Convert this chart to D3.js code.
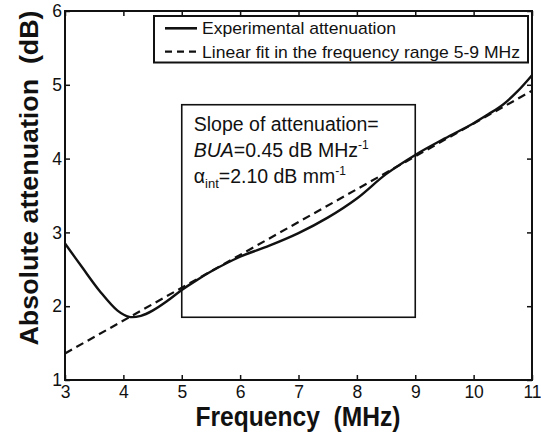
<!DOCTYPE html>
<html><head><meta charset="utf-8">
<script src="https://cdn.jsdelivr.net/npm/d3@7"></script>
<style>
html,body{margin:0;padding:0;background:#fff;}
svg{display:block;}
text{font-family:"Liberation Sans",Arial,Helvetica,sans-serif;fill:#111;}
</style></head><body>
<svg id="chart" width="541" height="434"></svg>
<script>
// ---- data ----
const freq  = [3.0,3.3,3.6,3.9,4.1,4.3,4.5,4.75,5.0,5.25,5.5,6.0,6.5,7.0,7.5,8.0,8.5,9.0,9.5,10.0,10.25,10.5,10.75,11.0];
const atten = [2.85,2.52,2.20,1.94,1.855,1.87,1.94,2.07,2.22,2.35,2.47,2.67,2.82,2.99,3.20,3.46,3.79,4.05,4.27,4.48,4.60,4.73,4.91,5.13];
const fitFreq  = [3, 11];
const fitAtten = [1.36, 4.92];
const xTicks = [3,4,5,6,7,8,9,10,11];
const yTicks = [1,2,3,4,5,6];
const legendLabels = ["Experimental attenuation", "Linear fit in the frequency range 5-9 MHz"];
const boxFreq = [5, 9];
const boxAtten = [1.85, 4.73];

// ---- layout ----
const svg = d3.select("#chart");
const m = {left:65, top:11, right:9, bottom:54};
const W = 541 - m.left - m.right, H = 434 - m.top - m.bottom;
const x = d3.scaleLinear().domain([3,11]).range([0,W]);
const y = d3.scaleLinear().domain([1,6]).range([H,0]);
const g = svg.append("g").attr("transform",`translate(${m.left},${m.top})`);

// axes with inward ticks
const fs = 17.5;
const ax = g.append("g").attr("transform",`translate(0,${H})`)
  .call(d3.axisBottom(x).tickValues(xTicks).tickSizeInner(-5).tickSizeOuter(0).tickPadding(6).tickFormat(d3.format("d")));
const ay = g.append("g")
  .call(d3.axisLeft(y).tickValues(yTicks).tickSizeInner(-5).tickSizeOuter(0).tickPadding(3).tickFormat(d3.format("d")));
const at = g.append("g")
  .call(d3.axisTop(x).tickValues(xTicks).tickSizeInner(-5).tickSizeOuter(0).tickFormat(""));
const ar = g.append("g").attr("transform",`translate(${W},0)`)
  .call(d3.axisRight(y).tickValues(yTicks).tickSizeInner(-5).tickSizeOuter(0).tickFormat(""));
[ax,ay,at,ar].forEach(a=>{
  a.select(".domain").remove();
  a.selectAll(".tick line").attr("stroke","#111").attr("stroke-width",1.5);
  a.selectAll(".tick text").attr("font-size",fs).attr("fill","#222")
   .style("font-family",'"Liberation Sans",Arial,sans-serif');
});

// frame
g.append("rect").attr("x",0).attr("y",0).attr("width",W).attr("height",H)
  .attr("fill","none").attr("stroke","#111").attr("stroke-width",2);

// annotation box
g.append("rect")
  .attr("x",x(boxFreq[0])).attr("y",y(boxAtten[1]))
  .attr("width",x(boxFreq[1])-x(boxFreq[0])).attr("height",y(boxAtten[0])-y(boxAtten[1]))
  .attr("fill","none").attr("stroke","#111").attr("stroke-width",1.6);

// lines
const line = d3.line().x(d=>x(d[0])).y(d=>y(d[1])).curve(d3.curveCatmullRom.alpha(0.5));
g.append("path").datum(fitFreq.map((f,i)=>[f,fitAtten[i]]))
  .attr("d",d3.line().x(d=>x(d[0])).y(d=>y(d[1])))
  .attr("fill","none").attr("stroke","#111").attr("stroke-width",2.2).attr("stroke-dasharray","8,5");
g.append("path").datum(freq.map((f,i)=>[f,atten[i]]))
  .attr("d",line).attr("fill","none").attr("stroke","#111").attr("stroke-width",2.4);

// annotation text
const tx = x(5)+12;
const t1 = g.append("text").attr("x",tx).attr("y",131-m.top).attr("font-size",19.5).text("Slope of attenuation=");
const t2 = g.append("text").attr("x",tx).attr("y",157-m.top).attr("font-size",19.5);
t2.append("tspan").attr("font-style","italic").text("BUA");
t2.append("tspan").text("=0.45 dB MHz");
t2.append("tspan").attr("font-size",12).attr("dy",-8).text("-1");
const t3 = g.append("text").attr("x",tx).attr("y",183-m.top).attr("font-size",19.5);
t3.append("tspan").text("\u03B1");
t3.append("tspan").attr("font-size",13).attr("dy",5).text("int");
t3.append("tspan").attr("dy",-5).text("=2.10 dB mm");
t3.append("tspan").attr("font-size",12).attr("dy",-8).text("-1");

// legend (pixel layout)
const lg = svg.append("g");
lg.append("rect").attr("x",154).attr("y",16).attr("width",374).attr("height",46.5)
  .attr("fill","#fff").attr("stroke","#111").attr("stroke-width",2);
[0,1].forEach(i=>{
  const ly = 28.3 + i*23.4;
  lg.append("line").attr("x1",165).attr("x2",197).attr("y1",ly).attr("y2",ly)
    .attr("stroke","#111").attr("stroke-width",i?2.2:2.6).attr("stroke-dasharray",i?"7,5":null);
  lg.append("text").attr("x",202).attr("y",ly+6).attr("font-size",17)
    .attr("textLength", i?318:194).attr("lengthAdjust","spacingAndGlyphs")
    .text(legendLabels[i]);
});

// axis titles
svg.append("text").attr("x",298).attr("y",426).attr("text-anchor","middle")
  .attr("font-size",27).attr("font-weight","bold")
  .attr("textLength",205).attr("lengthAdjust","spacingAndGlyphs")
  .style("white-space","pre").text("Frequency  (MHz)");
svg.append("text").attr("transform","translate(38,178) rotate(-90)").attr("text-anchor","middle")
  .attr("font-size",25).attr("font-weight","bold")
  .attr("textLength",335).attr("lengthAdjust","spacingAndGlyphs")
  .style("white-space","pre").text("Absolute attenuation  (dB)");
</script>
</body></html>
